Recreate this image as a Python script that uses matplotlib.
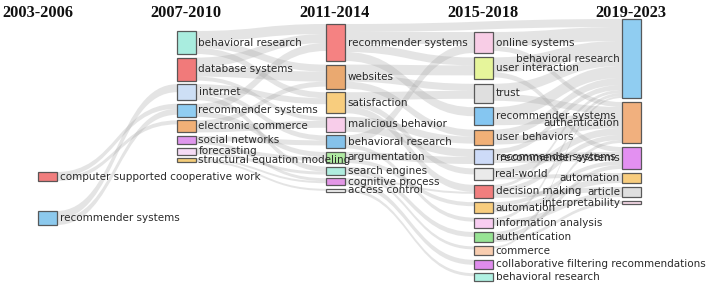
import matplotlib.pyplot as plt
from matplotlib.path import Path
from matplotlib.patches import PathPatch, Rectangle

periods = ['2003-2006', '2007-2010', '2011-2014', '2015-2018', '2019-2023']

names_0 = ['computer supported cooperative work', 'recommender systems']
sizes_0 = [9, 14]
colors_0 = ['#f07070', '#80c4ec']

names_1 = ['behavioral research', 'database systems', 'internet', 'recommender systems',
           'electronic commerce', 'social networks', 'forecasting', 'structural equation modeling']
sizes_1 = [23, 23, 16, 13, 12, 8, 7, 4]
colors_1 = ['#a0ecdc', '#f06c6c', '#c8dcf4', '#84c8f0', '#f0a868', '#dc8cec', '#f4d8f4', '#f4c86c']

names_2 = ['recommender systems', 'websites', 'satisfaction', 'malicious behavior',
           'behavioral research', 'argumentation', 'search engines', 'cognitive process',
           'access control']
sizes_2 = [37, 24, 21, 15, 13, 11, 8, 7, 3]
colors_2 = ['#f47474', '#e8a060', '#f8c870', '#f8c8e8', '#78bce8', '#a8e898', '#a8ecdc',
            '#e08ce4', '#f4f4f4']

names_3 = ['online systems', 'user interaction', 'trust', 'recommender systems', 'user behaviors',
           'recommender systems', 'real-world', 'decision making', 'automation',
           'information analysis', 'authentication', 'commerce',
           'collaborative filtering recommendations', 'behavioral research']
sizes_3 = [21, 22, 19, 18, 15, 15, 12, 13, 11, 10, 10, 9, 9, 8]
colors_3 = ['#f8c8e4', '#e4f490', '#dcdcdc', '#78c0f0', '#f0a868', '#c8d8f8', '#e8e8e8',
            '#f07070', '#f8c870', '#f8c8f0', '#8ce088', '#f8c8a8', '#dc80ec', '#a8f0e0']

names_4 = ['behavioral research', 'authentication', 'recommender systems', 'automation',
           'article', 'interpretability']
sizes_4 = [79, 41, 22, 10, 10, 3]
colors_4 = ['#84c8f0', '#f0a870', '#e084f0', '#f8c870', '#dcdcdc', '#f8d8e8']

# links: (source index, target index, value)
links_01 = [(0, 3, 5), (0, 4, 4), (1, 2, 8), (1, 3, 6)]
links_12 = [(0, 0, 10), (0, 1, 7), (0, 2, 6), (1, 0, 9), (1, 1, 10), (1, 3, 4),
            (2, 2, 6), (2, 4, 5), (2, 6, 5), (3, 0, 8), (3, 5, 5), (4, 1, 5), (4, 3, 7),
            (5, 4, 5), (5, 7, 3), (6, 5, 4), (6, 6, 3), (7, 7, 2), (7, 8, 2)]
links_23 = [(0, 0, 12), (0, 1, 8), (0, 3, 9), (1, 1, 10), (1, 2, 7), (1, 4, 7),
            (2, 2, 8), (2, 6, 6), (2, 7, 7), (3, 4, 7), (3, 5, 8), (4, 0, 9), (4, 9, 4),
            (5, 5, 7), (5, 8, 4), (6, 10, 5), (6, 11, 3), (7, 12, 5), (7, 7, 2), (8, 13, 3)]
links_24 = [(0, 0, 8)]
links_34 = [(0, 0, 14), (0, 1, 5), (1, 0, 15), (1, 2, 5), (2, 0, 10), (2, 1, 7),
            (3, 0, 12), (3, 1, 6), (4, 0, 7), (4, 1, 8), (5, 2, 9), (5, 0, 5),
            (6, 1, 7), (6, 3, 4), (7, 1, 5), (7, 4, 5), (7, 0, 3), (8, 3, 6), (8, 2, 4),
            (9, 4, 5), (9, 0, 3), (10, 1, 3), (10, 2, 4), (10, 5, 3), (11, 0, 2)]

columns = [(names_0, sizes_0, colors_0), (names_1, sizes_1, colors_1),
           (names_2, sizes_2, colors_2), (names_3, sizes_3, colors_3),
           (names_4, sizes_4, colors_4)]
stage_links = [(0, 1, links_01), (1, 2, links_12), (2, 3, links_23),
               (2, 4, links_24), (3, 4, links_34)]

# layout (pixel units)
col_x = [38, 177, 326, 474, 622]
box_w = 18.5
col_top = [172, 31, 24, 32, 19]
col_gap = [30, 3.6, 3.6, 4.4, 4.0]
head_x = [38, 186, 335, 483, 631]

node_y = []
for c, (names, sizes, colors) in enumerate(columns):
    y = col_top[c]
    tops = []
    for s in sizes:
        tops.append(y)
        y += s + col_gap[c]
    node_y.append(tops)

fig = plt.figure(figsize=(7.07, 2.88), dpi=100)
ax = fig.add_axes([0, 0, 1, 1])
ax.set_xlim(0, 707)
ax.set_ylim(288, 0)
ax.axis('off')

# gather all links and stack them at both ends
all_links = []
for sc, dc, lst in stage_links:
    for s, d, v in lst:
        all_links.append([sc, s, dc, d, v, 0.0, 0.0])

out_off = {}
for lk in sorted(all_links, key=lambda l: (l[0], l[1], node_y[l[2]][l[3]])):
    key = (lk[0], lk[1])
    off = out_off.get(key, 0.0)
    lk[5] = node_y[lk[0]][lk[1]] + off
    out_off[key] = off + lk[4]
in_off = {}
for lk in sorted(all_links, key=lambda l: (l[2], l[3], node_y[l[0]][l[1]])):
    key = (lk[2], lk[3])
    off = in_off.get(key, 0.0)
    lk[6] = node_y[lk[2]][lk[3]] + off
    in_off[key] = off + lk[4]

for sc, s, dc, d, v, ys, yd in all_links:
    x0 = col_x[sc] + box_w
    x1 = col_x[dc]
    xm = (x0 + x1) / 2
    verts = [(x0, ys), (xm, ys), (xm, yd), (x1, yd),
             (x1, yd + v), (xm, yd + v), (xm, ys + v), (x0, ys + v), (x0, ys)]
    codes = [Path.MOVETO, Path.CURVE4, Path.CURVE4, Path.CURVE4,
             Path.LINETO, Path.CURVE4, Path.CURVE4, Path.CURVE4, Path.CLOSEPOLY]
    ax.add_patch(PathPatch(Path(verts, codes), facecolor='#a0a0a0', edgecolor='none',
                           alpha=0.28, zorder=1))

for c, (names, sizes, colors) in enumerate(columns):
    for i, (name, s, col) in enumerate(zip(names, sizes, colors)):
        y0 = node_y[c][i]
        ax.add_patch(Rectangle((col_x[c], y0), box_w, s, facecolor=col, edgecolor='#4a4a4a',
                               linewidth=0.9, alpha=0.9, zorder=2))
        if c == len(columns) - 1:
            ax.text(col_x[c] - 2, y0 + s / 2, name, ha='right', va='center',
                    fontsize=7.5, color='#2a2a2a', zorder=3)
        else:
            ax.text(col_x[c] + box_w + 3, y0 + s / 2, name, ha='left', va='center',
                    fontsize=7.5, color='#2a2a2a', zorder=3)

for c, p in enumerate(periods):
    ax.text(head_x[c], 13, p, ha='center', va='center', fontsize=11.8, fontweight='bold',
            family='Liberation Serif', color='#111111')

fig.savefig('out.png', dpi=100)
